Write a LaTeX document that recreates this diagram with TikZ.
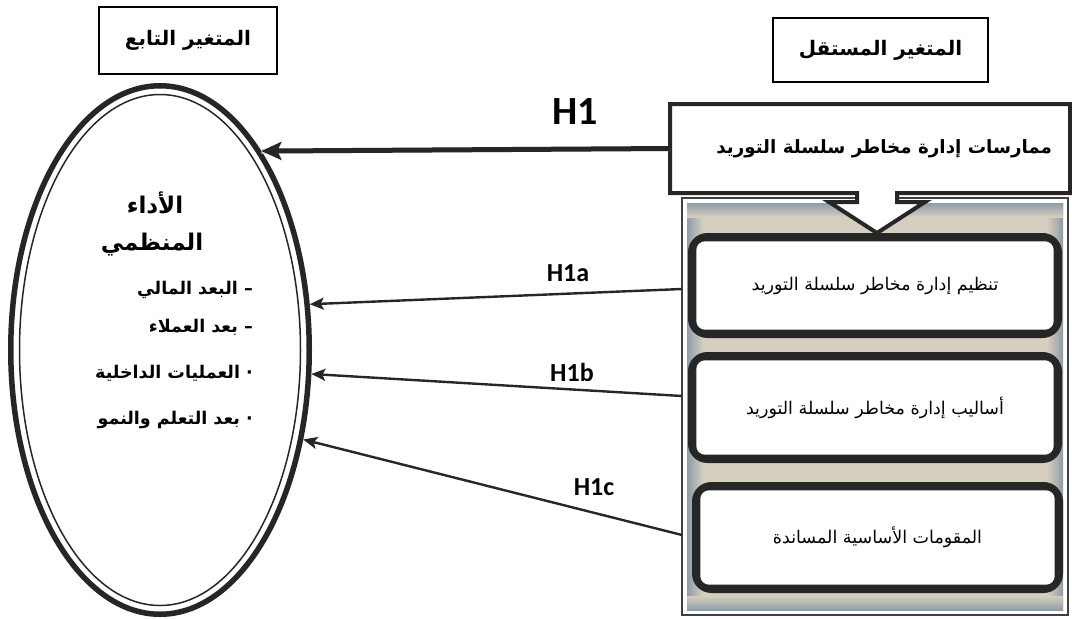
\documentclass[tikz,border=0pt]{standalone}
\usepackage{fontspec}
\setmainfont{Carlito}
\newfontfamily\arabicfont[Script=Arabic]{DejaVu Sans}
\TeXXeTstate=1
\usetikzlibrary{shapes.geometric,arrows.meta,calc}
\definecolor{ink}{HTML}{262626}
\definecolor{bev}{HTML}{8E9CA6}
\definecolor{beige}{HTML}{D6CEBF}
\tikzset{
  hdrbox/.style={draw=black, line width=1.4pt, fill=white, inner sep=0pt,
    font=\arabicfont\bfseries\fontsize{20}{24}\selectfont},
  rbox/.style={draw=ink, line width=7pt, fill=white, rounded corners=16pt, inner sep=0pt,
    minimum width=367pt, font=\arabicfont\fontsize{17.5}{21}\selectfont},
  rinner/.style={draw=ink, line width=1.6pt, rounded corners=9pt},
  eltext/.style={inner sep=0pt, font=\arabicfont\bfseries\fontsize{17.5}{21}\selectfont},
  eltitle/.style={inner sep=0pt, font=\arabicfont\bfseries\fontsize{23}{27}\selectfont},
  hlab/.style={inner sep=0pt, font=\bfseries\fontsize{26}{30}\selectfont},
  bigarrow/.style={draw=ink, line width=5pt, -{Stealth[length=20pt,width=18pt,inset=4pt]}},
  arr/.style={draw=ink, line width=2.4pt, -{Stealth[length=14pt,width=12pt,inset=3pt]}},
}
\begin{document}
\begin{tikzpicture}[x=1pt,y=-1pt]
\useasboundingbox (0,0) rectangle (1072,619);
% headers
\node[hdrbox, minimum width=178pt, minimum height=67pt] (dep) at (188,40.5) {\beginR المتغير التابع\endR};
\node[hdrbox, minimum width=215pt, minimum height=64pt] (ind) at (880.5,50) {\beginR المتغير المستقل\endR};
% ellipse
\node[ellipse, draw=ink, line width=5.5pt, fill=white, inner sep=0pt, minimum width=298.5pt, minimum height=528.5pt] (el) at (160,350) {};
\draw[ink, line width=1.5pt] (el.center) ellipse [x radius=140.5pt, y radius=255.5pt];
\node[eltitle] (t0) at (155,203) {\beginR الأداء\endR};
\node[eltitle] (t00) at (152,245) {\beginR المنظمي\endR};
\node[eltext, anchor=east] (t1) at (253,290) {\beginR – البعد المالي\endR};
\node[eltext, anchor=east] (t2) at (253,327) {\beginR – بعد العملاء\endR};
\node[eltext, anchor=east] (t3) at (253,373) {\beginR · العمليات الداخلية\endR};
\node[eltext, anchor=east] (t4) at (253,420) {\beginR · بعد التعلم والنمو\endR};
% panel
\node[draw=black!75, line width=1.2pt, fill=white, minimum width=386pt, minimum height=417pt, inner sep=0pt] (pnl) at (875,406.5) {};
\fill[beige] (687,203) rectangle (1063,610);
\shade[left color=bev, right color=beige] (687,203) rectangle (703,610);
\shade[left color=beige, right color=bev] (1047,203) rectangle (1063,610);
\shade[top color=bev, bottom color=beige] (687,203) rectangle (1063,217);
\shade[top color=beige, bottom color=bev] (687,596) rectangle (1063,610);
% callout
\draw[ink, line width=4pt, fill=white, line join=miter]
  (670,104) -- (1070,104) -- (1070,193) -- (897,193) -- (897,202) -- (925,202) -- (877,233)
  -- (829,202) -- (857,202) -- (857,193) -- (670,193) -- cycle;
\node[inner sep=0pt, minimum width=400pt, minimum height=89pt, anchor=west,
  font=\arabicfont\bfseries\fontsize{18.3}{22}\selectfont] (cal) at (670,148.5)
  {\hspace{28pt}\beginR ممارسات إدارة مخاطر سلسلة التوريد\endR};
% boxes
\node[rbox, minimum height=98pt] (b1) at (875,285.5) {\beginR تنظيم إدارة مخاطر سلسلة التوريد\endR};
\node[rbox, minimum height=104pt] (b2) at (875,407.5) {\beginR أساليب إدارة مخاطر سلسلة التوريد\endR};
\node[rbox, minimum width=364pt, minimum height=104pt] (b3) at (877.5,537.5) {\beginR المقومات الأساسية المساندة\endR};
\draw[rinner] ([shift={(7.5,7.5)}]b1.north west) rectangle ([shift={(-7.5,-7.5)}]b1.south east);
\draw[rinner] ([shift={(7.5,7.5)}]b2.north west) rectangle ([shift={(-7.5,-7.5)}]b2.south east);
\draw[rinner] ([shift={(7.5,7.5)}]b3.north west) rectangle ([shift={(-7.5,-7.5)}]b3.south east);
% connectors
\coordinate (s1) at (682,289);
\coordinate (s2) at (682,396);
\coordinate (s3) at (682,535);
\draw[gray!30, line width=5pt, shift={(0,4)}] (cal.west) -- (el.63);
\path[bigarrow] (cal.west) -- (el.63);
\path[arr] (s1) -- (el.17.7);
\path[arr] (s2) -- (el.-9.7);
\path[arr] (s3) -- (el.-32.2);
% labels
\node[hlab, font=\bfseries\fontsize{40}{44}\selectfont] (h1) at (575,112) {H1};
\node[hlab] (h1a) at (568,273) {H1a};
\node[hlab] (h1b) at (572,372) {H1b};
\node[hlab] (h1c) at (594,487) {H1c};
\end{tikzpicture}
\end{document}
